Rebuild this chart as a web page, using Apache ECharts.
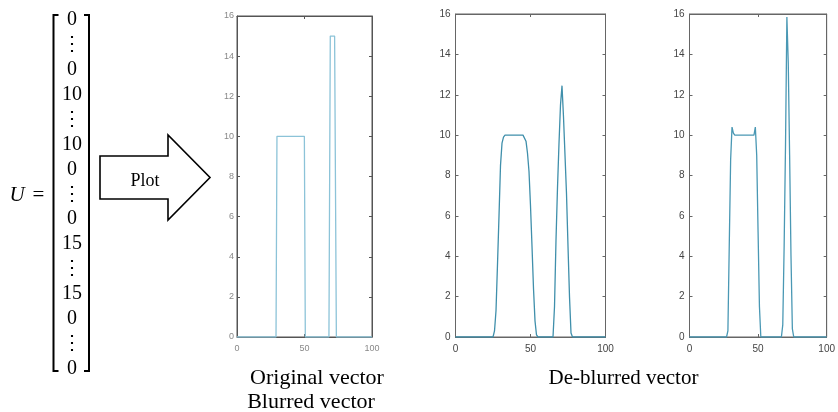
<!DOCTYPE html>
<html><head><meta charset="utf-8">
<script src="https://cdn.jsdelivr.net/npm/echarts@6/dist/echarts.min.js"></script>
<style>html,body{margin:0;padding:0;background:#fff}#c{width:838px;height:412px}</style>
</head><body><div id="c"></div><script>
// ---- data ----
const xTicks = [0, 50, 100];
const yTicks = [0, 2, 4, 6, 8, 10, 12, 14, 16];
const originalX = [0, 28.9, 29.6, 49.9, 50.6, 68.1, 69.1, 72.3, 73.6, 100];
const originalY = [0, 0, 10, 10, 0, 0, 15, 15, 0, 0];
const blurredX = [0,25,26,27,28,29,30,31,32,33,45,46,47,48,49,50,51,52,53,54,55,65,66,67,68,69,70,71,72,73,74,75,76,77,78,100];
const blurredY = [0,0,0.3,1.3,3.6,6,8.5,9.6,9.9,10,10,9.95,9.7,9.1,8.2,6.5,4.5,2.4,0.8,0.1,0,0,1.5,4.8,7.4,9.6,11.5,12.45,10.9,9,7.1,4.5,2,0.2,0,0];
const deblurredX = [0,27,28,29,30,31,32,33,47,48,49,50,51,52,67,68,69,70,71,72,73,74,75,76,100];
const deblurredY = [0,0,0.3,4.6,8.8,10.4,10.1,10,10,10.4,9,5.2,1.5,0,0,0.6,4.5,9.5,15.85,13.6,9,4,0.4,0,0];
const matrixEntries = ['0','⋮','0','10','⋮','10','0','⋮','0','15','⋮','15','0','⋮','0'];
const captions = ['Original vector', 'Blurred vector', 'De-blurred vector'];
const arrowLabel = 'Plot';

const zip = (xs, ys) => xs.map((x, i) => [x, ys[i]]);
const panels = [
  {grid:{left:237, top:16, width:135, height:321}, data:zip(originalX, originalY), color:'#8cc3d8', lab:'#888', fs:9, box:'#555'},
  {grid:{left:455.5, top:14, width:150, height:323}, data:zip(blurredX, blurredY), color:'#3f8fab', lab:'#444', fs:10, box:'#666'},
  {grid:{left:689.5, top:14, width:146, height:323}, data:zip(deblurredX, deblurredY), color:'#4a98b4', lab:'#444', fs:10, box:'#666'}
];

const grids = [], xAxes = [], yAxes = [], series = [];
panels.forEach((p, i) => {
  grids.push(Object.assign({show:true, borderColor:p.box, borderWidth:1, backgroundColor:'#fff'}, p.grid));
  const mk = (extra) => Object.assign({
    min:0, splitLine:{show:false},
    axisLine:{show:true, onZero:false, lineStyle:{color:p.box, width:1}},
    axisTick:{show:true, inside:true, length:3, lineStyle:{color:p.box}}
  }, extra);
  xAxes.push(mk({type:'value', gridIndex:i, position:'bottom', max:100, interval:50,
    axisLabel:{color:p.lab, fontSize:p.fs, margin:7, fontFamily:'Arial, Liberation Sans'}}));
  xAxes.push(mk({type:'value', gridIndex:i, position:'top', max:100, interval:50, axisLabel:{show:false}}));
  yAxes.push(mk({type:'value', gridIndex:i, position:'left', max:16, interval:2,
    axisLabel:{color:p.lab, fontSize:p.fs, margin:i===0?3:5, fontFamily:'Arial, Liberation Sans'}}));
  yAxes.push(mk({type:'value', gridIndex:i, position:'right', max:16, interval:2, axisLabel:{show:false}}));
  series.push({type:'line', xAxisIndex:2*i, yAxisIndex:2*i, data:p.data, showSymbol:false, symbol:'none',
    lineStyle:{color:p.color, width:1.3}, animation:false, z:3});
});

// ---- left-side graphics ----
const serif = 'Liberation Serif, DejaVu Serif, serif';
const graphics = [];
matrixEntries.forEach((t, i) => {
  graphics.push({type:'text', x:72, y:20 + i*24.9,
    style:{text:t, font:'20px ' + serif, fill:'#000', textAlign:'center', textVerticalAlign:'middle'}});
});
const bl = 53.5, br = 89, bt = 15, bb = 371;
graphics.push({type:'polyline', shape:{points:[[bl+5,bt],[bl,bt],[bl,bb],[bl+5,bb]]}, style:{stroke:'#000', lineWidth:2, fill:null}});
graphics.push({type:'polyline', shape:{points:[[br-5,bt],[br,bt],[br,bb],[br-5,bb]]}, style:{stroke:'#000', lineWidth:2, fill:null}});
graphics.push({type:'text', x:17, y:195, style:{text:'U', font:'italic 21px ' + serif, fill:'#000', textAlign:'center', textVerticalAlign:'middle'}});
graphics.push({type:'text', x:38.5, y:195, style:{text:'=', font:'21px ' + serif, fill:'#000', textAlign:'center', textVerticalAlign:'middle'}});
graphics.push({type:'polygon', shape:{points:[[100,156],[168,156],[168,135],[210,177.5],[168,220],[168,199],[100,199]]},
  style:{stroke:'#000', lineWidth:1.6, fill:'#fff'}});
graphics.push({type:'text', x:145, y:181, style:{text:arrowLabel, font:'18px ' + serif, fill:'#000', textAlign:'center', textVerticalAlign:'middle'}});
graphics.push({type:'text', x:317, y:378, style:{text:captions[0], font:'22px ' + serif, fill:'#000', textAlign:'center', textVerticalAlign:'middle'}});
graphics.push({type:'text', x:311, y:402, style:{text:captions[1], font:'22px ' + serif, fill:'#000', textAlign:'center', textVerticalAlign:'middle'}});
graphics.push({type:'text', x:623.5, y:378, style:{text:captions[2], font:'21px ' + serif, fill:'#000', textAlign:'center', textVerticalAlign:'middle'}});

const chart = echarts.init(document.getElementById('c'), null, {renderer:'canvas'});
chart.setOption({animation:false, backgroundColor:'#fff', grid:grids, xAxis:xAxes, yAxis:yAxes, series:series, graphic:graphics});
</script></body></html>
